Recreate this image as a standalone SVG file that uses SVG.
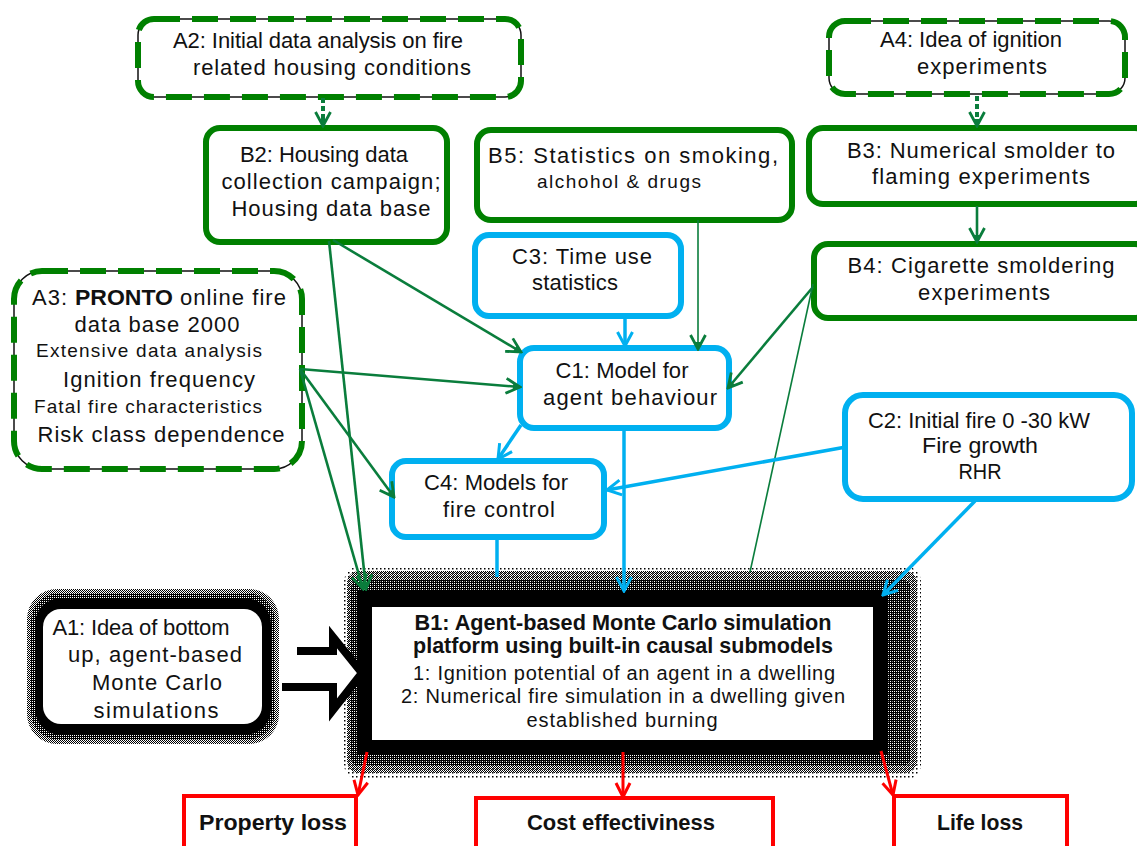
<svg xmlns="http://www.w3.org/2000/svg" width="1137" height="846" viewBox="0 0 1137 846">
<style>
text{font-family:"Liberation Sans",Arial,sans-serif;font-size:22px;fill:#111;}
.sm{font-size:19px;}
.b1r{font-size:20px;}
.bd{font-weight:bold;}
.m{text-anchor:middle;}
.gbox{fill:#fff;stroke:#008000;stroke-width:6;}
.bbox{fill:#fff;stroke:#00b0f0;stroke-width:6;}
.rbox{fill:#fff;stroke:#ff0000;stroke-width:4;}
.abase{fill:#fff;stroke:#111;stroke-width:1.5;}
.adash{fill:none;stroke:#008000;stroke-width:6;stroke-dasharray:26 12;}
.cg{stroke:#0a7d3c;stroke-width:2.6;fill:none;marker-end:url(#ag);}
.cgt{stroke:#0a7d3c;stroke-width:1.6;fill:none;}
.cgd{stroke:#0a7d3c;stroke-width:4;stroke-dasharray:5 3;fill:none;marker-end:url(#ag);}
.cb{stroke:#00b0f0;stroke-width:3.5;fill:none;marker-end:url(#ab);}
.cbn{stroke:#00b0f0;stroke-width:3.5;fill:none;}
.cr{stroke:#ff0000;stroke-width:3;fill:none;marker-end:url(#ar);}
</style>
<defs>
<marker id="ag" viewBox="-16 -9 18 18" refX="0" refY="0" markerWidth="18" markerHeight="18" markerUnits="userSpaceOnUse" orient="auto"><path d="M-14,-7.5 L0,0 L-14,7.5" fill="none" stroke="#0a7d3c" stroke-width="2.8"/><path d="M-7,-3 L0,0 L-7,3 Z" fill="#0a7d3c"/></marker>
<marker id="ab" viewBox="-16 -9 18 18" refX="0" refY="0" markerWidth="18" markerHeight="18" markerUnits="userSpaceOnUse" orient="auto"><path d="M-14,-7.5 L0,0 L-14,7.5" fill="none" stroke="#00b0f0" stroke-width="3"/></marker>
<marker id="ar" viewBox="-16 -9 18 18" refX="0" refY="0" markerWidth="18" markerHeight="18" markerUnits="userSpaceOnUse" orient="auto"><path d="M-14,-7 L0,0 L-14,7" fill="none" stroke="#ff0000" stroke-width="3"/></marker>
<pattern id="chk" width="2" height="2" patternUnits="userSpaceOnUse"><rect width="1" height="1" fill="#000"/><rect x="1" y="1" width="1" height="1" fill="#000"/></pattern>
<pattern id="dense" width="2" height="2" patternUnits="userSpaceOnUse"><rect width="2" height="1" fill="#000"/><rect x="1" y="1" width="1" height="1" fill="#000"/></pattern>
<pattern id="dots" width="4" height="4" patternUnits="userSpaceOnUse"><rect width="1.5" height="1.5" fill="#000"/></pattern>
</defs>
<rect width="1137" height="846" fill="#fff"/>

<g id="B1">
<rect x="344" y="566" width="577" height="214" rx="16" fill="url(#dots)"/>
<rect x="347" y="571" width="570" height="202" rx="12" fill="url(#chk)"/>
<rect x="351" y="580" width="560" height="186" rx="8" fill="url(#dense)"/>
<rect x="357" y="591" width="530" height="163" fill="#000"/>
<rect x="372" y="607" width="501" height="133" fill="#fff"/>
<text class="m bd" x="623" y="630" textLength="417" lengthAdjust="spacingAndGlyphs">B1: Agent-based Monte Carlo simulation</text>
<text class="m bd" x="623" y="653" textLength="420" lengthAdjust="spacingAndGlyphs">platform using built-in causal submodels</text>
<text class="m b1r" x="624" y="680" textLength="422" lengthAdjust="spacing">1: Ignition potential of an agent in a dwelling</text>
<text class="m b1r" x="623" y="703" textLength="444" lengthAdjust="spacing">2: Numerical fire simulation in a dwelling given</text>
<text class="m b1r" x="622" y="727" textLength="191" lengthAdjust="spacing">established burning</text>
</g>

<g id="A2">
<rect class="abase" x="138" y="19" width="383" height="78" rx="16"/>
<rect class="adash" x="138" y="19" width="383" height="78" rx="16"/>
<text class="m" x="318" y="48" textLength="290" lengthAdjust="spacing">A2: Initial data analysis on fire</text>
<text class="m" x="332" y="75" textLength="278" lengthAdjust="spacing">related housing conditions</text>
</g>

<g id="A4">
<rect class="abase" x="829" y="21" width="296" height="73" rx="16"/>
<rect class="adash" x="829" y="21" width="296" height="73" rx="16"/>
<text class="m" x="971" y="47" textLength="182" lengthAdjust="spacing">A4: Idea of ignition</text>
<text class="m" x="982" y="74" textLength="130" lengthAdjust="spacing">experiments</text>
</g>

<g id="A3">
<rect class="abase" x="14" y="271" width="288" height="198" rx="28"/>
<rect class="adash" x="14" y="271" width="288" height="198" rx="28"/>
<text x="32" y="305" textLength="35" lengthAdjust="spacing">A3:</text>
<text class="bd" x="75" y="305" textLength="98" lengthAdjust="spacingAndGlyphs">PRONTO</text>
<text x="180" y="305" textLength="106" lengthAdjust="spacing">online fire</text>
<text class="m" x="157" y="332" textLength="165" lengthAdjust="spacing">data base 2000</text>
<text class="m sm" x="149" y="357" textLength="226" lengthAdjust="spacing">Extensive data analysis</text>
<text class="m" x="159" y="387" textLength="192" lengthAdjust="spacing">Ignition frequency</text>
<text class="m sm" x="148" y="413" textLength="228" lengthAdjust="spacing">Fatal fire characteristics</text>
<text class="m" x="161" y="442" textLength="247" lengthAdjust="spacing">Risk class dependence</text>
</g>

<g id="A1">
<rect x="27" y="589" width="252" height="155" rx="30" fill="url(#chk)"/>
<rect x="31" y="593" width="244" height="147" rx="28" fill="url(#dense)"/>
<rect x="35" y="598" width="236" height="137" rx="26" fill="#000"/>
<rect x="43" y="609" width="219" height="115" rx="18" fill="#fff"/>
<text class="m" x="141" y="635" textLength="177" lengthAdjust="spacing">A1: Idea of bottom</text>
<text class="m" x="155" y="662" textLength="174" lengthAdjust="spacing">up, agent-based</text>
<text class="m" x="157" y="690" textLength="130" lengthAdjust="spacing">Monte Carlo</text>
<text class="m" x="156" y="718" textLength="125" lengthAdjust="spacing">simulations</text>
</g>

<g id="B2">
<rect class="gbox" x="206" y="128" width="241" height="114" rx="14"/>
<text class="m" x="324" y="162" textLength="168" lengthAdjust="spacing">B2: Housing data</text>
<text class="m" x="331" y="189" textLength="219" lengthAdjust="spacing">collection campaign;</text>
<text class="m" x="331" y="216" textLength="199" lengthAdjust="spacing">Housing data base</text>
</g>

<g id="B5">
<rect class="gbox" x="477" y="130" width="315" height="90" rx="14"/>
<text class="m" x="633" y="163" textLength="290" lengthAdjust="spacing">B5: Statistics  on smoking,</text>
<text class="m sm" x="619" y="188" textLength="164" lengthAdjust="spacing">alchohol &amp; drugs</text>
</g>

<g id="B3">
<rect class="gbox" x="809" y="128" width="340" height="76" rx="14"/>
<text class="m" x="981" y="158" textLength="268" lengthAdjust="spacing">B3: Numerical smolder to</text>
<text class="m" x="981" y="184" textLength="218" lengthAdjust="spacing">flaming experiments</text>
</g>

<g id="B4">
<rect class="gbox" x="814" y="244" width="335" height="74" rx="14"/>
<text class="m" x="981" y="273" textLength="267" lengthAdjust="spacing">B4: Cigarette smoldering</text>
<text class="m" x="984" y="300" textLength="132" lengthAdjust="spacing">experiments</text>
</g>

<g id="C3">
<rect class="bbox" x="475" y="235" width="206" height="81" rx="14"/>
<text class="m" x="582" y="264" textLength="140" lengthAdjust="spacing">C3: Time use</text>
<text class="m" x="575" y="290" textLength="86" lengthAdjust="spacing">statistics</text>
</g>

<g id="C1">
<rect class="bbox" x="520" y="348" width="209" height="80" rx="14"/>
<text class="m" x="622" y="378" textLength="133" lengthAdjust="spacing">C1: Model for</text>
<text class="m" x="630" y="405" textLength="174" lengthAdjust="spacing">agent behaviour</text>
</g>

<g id="C4">
<rect class="bbox" x="392" y="461" width="212" height="76" rx="14"/>
<text class="m" x="496" y="490" textLength="144" lengthAdjust="spacing">C4: Models for</text>
<text class="m" x="499" y="517" textLength="112" lengthAdjust="spacing">fire control</text>
</g>

<g id="C2">
<rect class="bbox" x="845" y="395" width="287" height="104" rx="18"/>
<text class="m" x="979" y="428" textLength="222" lengthAdjust="spacingAndGlyphs">C2: Initial fire 0  -30 kW</text>
<text class="m" x="980" y="453" textLength="116" lengthAdjust="spacingAndGlyphs">Fire growth</text>
<text class="m" x="980" y="479" textLength="43" lengthAdjust="spacingAndGlyphs">RHR</text>
</g>

<g id="PropertyLoss">
<rect class="rbox" x="184" y="796" width="172" height="70"/>
<text class="m bd" x="273" y="830" textLength="148" lengthAdjust="spacingAndGlyphs">Property loss</text>
</g>
<g id="CostEffectiveness">
<rect class="rbox" x="476" y="798" width="297" height="70"/>
<text class="m bd" x="621" y="830" textLength="188" lengthAdjust="spacingAndGlyphs">Cost effectiviness</text>
</g>
<g id="LifeLoss">
<rect class="rbox" x="894" y="796" width="173" height="70"/>
<text class="m bd" x="980" y="830" textLength="86" lengthAdjust="spacingAndGlyphs">Life loss</text>
</g>

<g id="connectors">
<line class="cgd" x1="323" y1="98" x2="323" y2="126"/>
<line class="cgd" x1="977" y1="96" x2="977" y2="126"/>
<line class="cg" x1="977" y1="206" x2="977" y2="242"/>
<line class="cg" x1="333" y1="240" x2="521" y2="352"/>
<line class="cg" x1="329" y1="241" x2="366" y2="589"/>
<line class="cg" x1="300" y1="369" x2="520" y2="387"/>
<line class="cg" x1="300" y1="369" x2="394" y2="497"/>
<line class="cg" x1="300" y1="369" x2="363" y2="589"/>
<line class="cg" x1="698" y1="220" x2="698" y2="349" style="stroke-width:1.6"/>
<line class="cg" x1="813" y1="287" x2="728" y2="388"/>
<line class="cgt" x1="813" y1="284" x2="750" y2="572"/>
<line class="cb" x1="625" y1="317" x2="625" y2="346"/>
<line class="cb" x1="521" y1="425" x2="498" y2="459"/>
<line class="cb" x1="624" y1="430" x2="624" y2="591"/>
<line class="cbn" x1="497" y1="539" x2="497" y2="577"/>
<line class="cb" x1="846" y1="447" x2="607" y2="490"/>
<line class="cb" x1="975" y1="501" x2="883" y2="595"/>
<line class="cr" x1="367" y1="752" x2="358" y2="795"/>
<line class="cr" x1="623" y1="752" x2="623" y2="797"/>
<line class="cr" x1="881" y1="751" x2="893" y2="795"/>
<g id="A1toB1">
<path d="M282,651 H333 V637 L362,673 L333,710 V687 H282 Z" fill="#fff"/>
<path d="M297,651 H333 V637 L362,673 L333,710 V687 H282" fill="none" stroke="#000" stroke-width="8" stroke-linejoin="miter"/>
</g>
</g>
</svg>
